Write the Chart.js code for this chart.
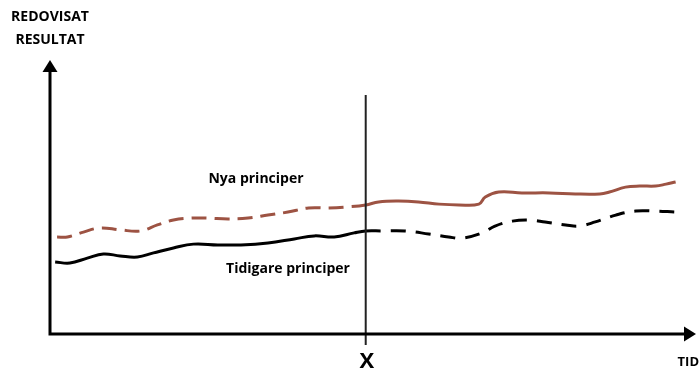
<!DOCTYPE html>
<html><head><meta charset="utf-8">
<script src="https://cdn.jsdelivr.net/npm/chart.js@4"></script>
<style>html,body{margin:0;padding:0;background:#fff}#wrap{width:699px;height:373px;position:relative}</style>
</head><body><div id="wrap"><canvas id="c" width="699" height="373"></canvas></div>
<script>
const xLabel = 'TID';
const yLabel = ['REDOVISAT', 'RESULTAT'];
const markerLabel = 'X';
const markerTime = 49.1;
const seriesNames = ['Nya principer', 'Tidigare principer'];
const nyaTime = [1.1,2.7,5.2,7.8,10.9,14.1,16.7,19.2,21.9,24.5,27.7,30.8,33.9,37.0,40.2,43.3,46.4,49.1,51.1,54.2,57.3,60.5,63.6,66.7,67.7,69.8,73.4,77.7,81.7,85.5,87.0,89.5,91.7,94.2,95.8,97.3];
const nyaValue = [35.4,35.4,37.2,38.7,38.0,37.6,39.8,41.6,42.3,42.3,42.0,42.3,43.4,44.5,46.0,46.0,46.4,47.1,48.2,48.5,48.2,47.4,47.1,47.4,50.0,51.8,51.5,51.5,51.1,51.1,51.8,53.6,54.0,54.0,54.7,55.5];
const tidTime = [0.8,3.1,5.8,8.3,10.9,13.6,16.1,19.2,22.3,26.1,29.7,33.9,38.0,41.1,44.2,47.3,49.1,51.6,55.2,58.9,62.0,64.1,67.2,69.2,71.9,74.5,77.0,80.2,82.3,84.8,88.0,91.1,93.8,97.3];
const tidValue = [26.3,25.9,27.7,29.2,28.5,28.1,29.6,31.4,32.8,32.5,32.5,33.2,34.7,35.8,35.4,36.9,37.6,37.6,37.6,36.5,35.4,35.0,36.9,39.4,41.2,41.6,40.9,39.8,39.4,40.9,43.4,44.9,44.9,44.5];

const toXY = (xs, ys) => xs.map((x, i) => ({x, y: ys[i]}));
const FONT = '"Open Sans", sans-serif';

const decor = {
  id: 'decor',
  afterDraw(chart) {
    const {ctx, chartArea: a, scales} = chart;
    ctx.save();
    const mx = scales.x.getPixelForValue(markerTime);
    ctx.strokeStyle = '#222';
    ctx.lineWidth = 2;
    ctx.beginPath(); ctx.moveTo(mx, 95); ctx.lineTo(mx, a.bottom + 11); ctx.stroke();
    ctx.strokeStyle = '#000'; ctx.fillStyle = '#000';
    ctx.lineWidth = 3;
    ctx.beginPath();
    ctx.moveTo(a.left, a.top + 11); ctx.lineTo(a.left, a.bottom); ctx.lineTo(a.right - 8, a.bottom);
    ctx.stroke();
    ctx.beginPath();
    ctx.moveTo(a.left, a.top); ctx.lineTo(a.left - 7.5, a.top + 12); ctx.lineTo(a.left + 7.5, a.top + 12); ctx.closePath(); ctx.fill();
    ctx.beginPath();
    ctx.moveTo(a.right + 3, a.bottom); ctx.lineTo(a.right - 9, a.bottom - 7.5); ctx.lineTo(a.right - 9, a.bottom + 7.5); ctx.closePath(); ctx.fill();
    ctx.textBaseline = 'middle';
    ctx.font = 'bold 14px ' + FONT;
    ctx.textAlign = 'center';
    ctx.fillText(yLabel[0], 50, 17);
    ctx.fillText(yLabel[1], 50, 40);
    ctx.font = 'bold 13px ' + FONT;
    ctx.textAlign = 'right';
    ctx.fillText(xLabel, 699, 362);
    ctx.font = 'bold 22px ' + FONT;
    ctx.textAlign = 'center';
    ctx.fillText(markerLabel, mx + 1, 362);
    ctx.font = 'bold 14px ' + FONT;
    ctx.fillText(seriesNames[0], 256, 179);
    ctx.fillText(seriesNames[1], 288, 269);
    ctx.restore();
  }
};

const dashBefore = d => ctx => ctx.p0.parsed.x < markerTime - 0.01 ? d : undefined;
const dashAfter = d => ctx => ctx.p0.parsed.x >= markerTime - 0.01 ? d : undefined;

new Chart(document.getElementById('c'), {
  type: 'line',
  data: {
    datasets: [
      {label: seriesNames[0], data: toXY(nyaTime, nyaValue), borderColor: '#9d5343', borderWidth: 3,
       pointRadius: 0, tension: 0.4, fill: false, clip: false,
       segment: {borderDash: dashBefore([15, 8])}},
      {label: seriesNames[1], data: toXY(tidTime, tidValue), borderColor: '#000', borderWidth: 3,
       pointRadius: 0, tension: 0.4, fill: false, clip: false,
       segment: {borderDash: dashAfter([15, 10])}}
    ]
  },
  options: {
    responsive: false, animation: false, devicePixelRatio: 1,
    layout: {padding: {left: 50, right: 6, top: 60, bottom: 39}},
    plugins: {legend: {display: false}, tooltip: {enabled: false}},
    scales: {
      x: {type: 'linear', min: 0, max: 100, display: false},
      y: {type: 'linear', min: 0, max: 100, display: false}
    }
  },
  plugins: [decor]
});
</script></body></html>
